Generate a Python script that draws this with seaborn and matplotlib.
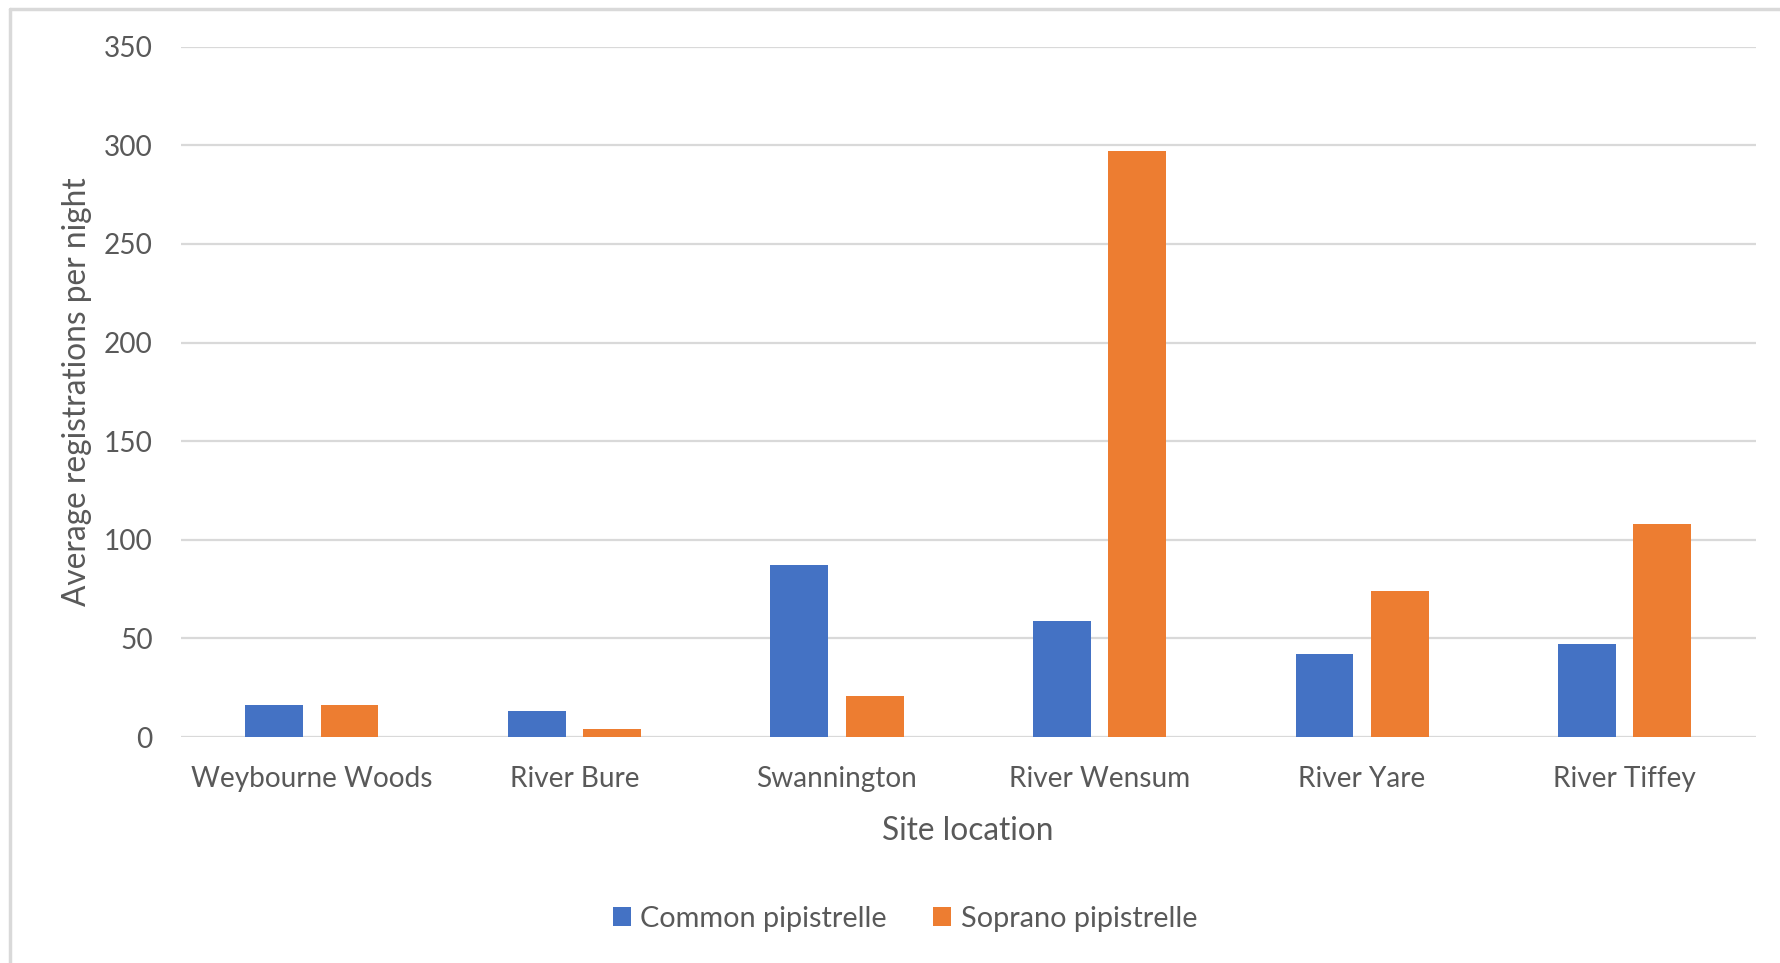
import matplotlib
matplotlib.use("Agg")
import matplotlib.pyplot as plt
from matplotlib.lines import Line2D
import pandas as pd
import seaborn as sns

# Average bat registrations per night at each survey site
sites = ["Weybourne Woods", "River Bure", "Swannington", "River Wensum", "River Yare", "River Tiffey"]
common = [16, 13, 87, 59, 42, 47]
soprano = [16, 4, 21, 297, 74, 108]
species = ["Common pipistrelle", "Soprano pipistrelle"]
yticks = [0, 50, 100, 150, 200, 250, 300, 350]

df = pd.DataFrame({
    "Site location": sites * 2,
    "Average registrations per night": common + soprano,
    "Species": [species[0]] * len(sites) + [species[1]] * len(sites),
})

sns.set_theme(style="white")
plt.rcParams["font.family"] = ["Lato", "DejaVu Sans"]
TEXT = "#595959"
GRID = "#d9d9d9"

W, H = 1780, 963
fig = plt.figure(figsize=(W / 100, H / 100), dpi=100)
fig.patch.set_facecolor("white")
ax = fig.add_axes([180.5 / W, 1 - 737 / H, (1756 - 180.5) / W, (737 - 46.7) / H])

sns.barplot(
    data=df, x="Site location", y="Average registrations per night",
    hue="Species", hue_order=species,
    palette=["#4472C4", "#ED7D31"], saturation=1, width=0.574, gap=0.233,
    edgecolor="none", linewidth=0, ax=ax, legend=True,
)

ax.set_ylim(0, 350)
ax.set_yticks(yticks)
ax.set_yticklabels([str(v) for v in yticks])
ax.set_xlim(-0.5, len(sites) - 0.5)
ax.yaxis.grid(True, color=GRID, linewidth=1.6)
ax.set_axisbelow(True)
for s in ax.spines.values():
    s.set_visible(False)
ax.tick_params(axis="both", length=0, colors=TEXT, labelsize=20.2)
ax.tick_params(axis="y", pad=20)
ax.tick_params(axis="x", pad=21)
ax.set_xlabel("Site location", color=TEXT, fontsize=22.8, labelpad=17)
ax.set_ylabel("Average registrations per night", color=TEXT, fontsize=22.8, labelpad=8.7)

handles, labels = ax.get_legend_handles_labels()
ax.get_legend().remove()
leg = fig.legend(
    handles, labels, loc="center", bbox_to_anchor=(905 / W, 1 - 919 / H),
    ncol=2, frameon=False, fontsize=20.8, handlelength=0.62, handleheight=0.62,
    handletextpad=0.32, columnspacing=1.62,
)
for t in leg.get_texts():
    t.set_color(TEXT)

# Chart-area frame (left and top edges)
fig.add_artist(Line2D([9.5 / W, 9.5 / W], [0, 1 - 9.5 / H], transform=fig.transFigure,
                      color=GRID, linewidth=2.5))
fig.add_artist(Line2D([9.5 / W, 1], [1 - 9.5 / H, 1 - 9.5 / H], transform=fig.transFigure,
                      color=GRID, linewidth=2.5))

fig.savefig("out.png", dpi=100, facecolor="white")
